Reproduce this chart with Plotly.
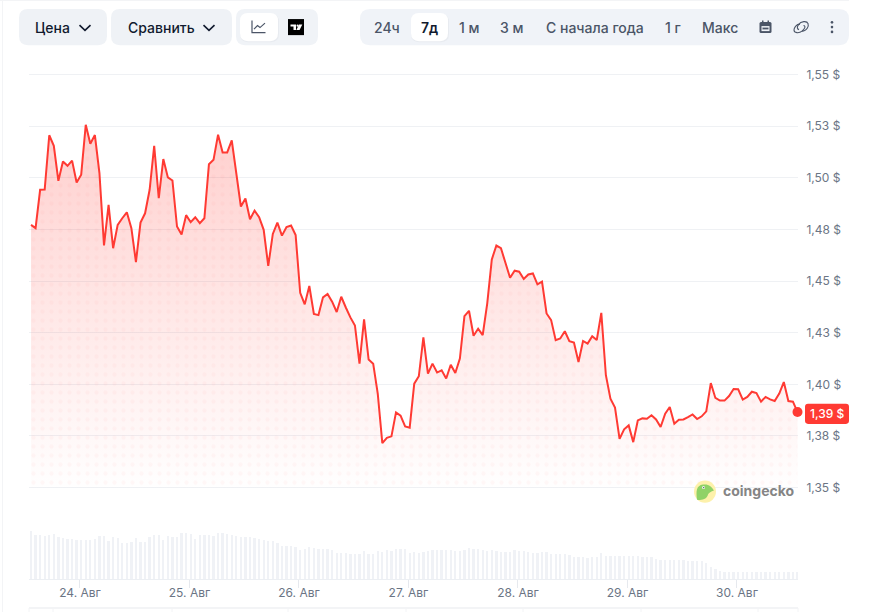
import pandas as pd
import plotly.graph_objects as go

W, H = 882, 612

START = "2025-08-23 13:16"
price = [
 1.4772,1.4756,1.4942,1.4943,1.5206,1.5155,1.4985,1.5079,1.5058,1.5083,1.4977,1.5015,1.5257,1.5165,1.5207,1.5023,
 1.4673,1.4869,1.4659,1.4772,1.4804,1.4833,1.4756,1.4592,1.4783,1.4828,1.4942,1.5155,1.4901,1.5091,1.5002,1.4987,
 1.4764,1.4725,1.4819,1.4785,1.4809,1.4780,1.4804,1.5066,1.5087,1.5209,1.5123,1.5123,1.5181,1.5015,1.4861,1.4900,
 1.4799,1.4841,1.4809,1.4748,1.4573,1.4728,1.4783,
 1.4720,1.4761,1.4769,1.4723,1.4443,1.4387,1.4476,1.4341,1.4335,1.4421,1.4437,1.4400,1.4350,1.4424,1.4372,1.4324,
 1.4285,1.4100,1.4314,1.4120,1.4100,1.3955,1.3715,1.3741,1.3748,1.3864,1.3848,1.3796,1.3790,1.4003,1.4039,1.4227,
 1.4052,1.4100,1.4057,1.4068,1.4028,1.4095,1.4055,1.4125,1.4330,1.4356,1.4235,1.4269,1.4238,1.4392,1.4605,1.4672,
 1.4659,1.4589,1.4516,1.4550,1.4545,
 1.4510,1.4532,1.4537,1.4484,1.4497,1.4343,1.4311,1.4214,1.4222,1.4257,1.4209,1.4202,1.4108,1.4210,1.4197,1.4233,
 1.4214,1.4346,1.4044,1.3930,1.3887,1.3736,1.3782,1.3801,1.3720,1.3825,1.3835,1.3833,1.3850,1.3830,1.3793,1.3858,
 1.3890,1.3809,1.3828,1.3830,1.3841,1.3854,1.3832,1.3845,1.3869,1.4006,1.3934,1.3921,1.3921,1.3943,1.3977,1.3976,
 1.3926,1.3939,1.3964,1.3958,1.3916,1.3939,1.3927,1.3919,1.3955,1.4011,1.3919,1.3916,1.3866,
]
volume = [
 47.3,43.3,43.3,42.3,43.3,43.7,41.3,40.3,39.3,39.3,38.3,38.3,38.3,38.3,39.3,42.3,42.3,37.3,41.3,40.3,
 35.3,35.3,36.3,40.3,36.3,36.3,41.3,43.3,43.3,38.3,42.3,41.3,41.3,44.7,45.3,43.7,39.3,43.3,43.3,43.3,
 42.3,45.3,45.3,44.3,43.3,42.3,41.3,41.3,41.3,40.3,39.3,38.3,37.7,37.7,35.3,32.3,32.3,32.3,31.3,28.3,
 30.0,31.0,30.3,29.3,29.3,30.0,28.3,25.7,25.3,25.3,24.3,24.3,24.3,27.3,24.3,24.3,27.3,26.3,28.3,27.3,29.3,
 29.3,29.3,25.7,27.0,25.7,27.0,27.3,28.3,28.3,28.3,28.3,28.3,27.3,27.3,29.0,30.3,29.7,29.3,28.3,27.3,
 28.3,27.3,27.0,27.0,27.0,28.3,28.0,27.3,27.0,26.0,26.0,26.3,27.0,24.3,24.3,24.3,24.3,23.3,21.7,21.3,
 21.3,20.3,21.3,21.7,25.3,22.3,22.3,22.3,22.3,22.3,22.3,22.3,22.3,21.7,21.3,21.3,20.0,19.0,19.0,19.0,
 19.0,18.3,18.3,17.7,17.7,17.3,17.3,16.0,11.7,10.0,8.3,
 7.3,7.3,7.3,7.3,7.3,7.3,7.3,7.3,7.3,7.3,7.3,7.3,7.3,7.3,7.3,7.3,7.3,
]
y_ticks = [1.35, 1.375, 1.40, 1.425, 1.45, 1.475, 1.50, 1.525, 1.55]
y_labels = ["1,35 $", "1,38 $", "1,40 $", "1,43 $", "1,45 $", "1,48 $", "1,50 $", "1,53 $", "1,55 $"]
x_ticks = ["2025-08-24", "2025-08-25", "2025-08-26", "2025-08-27", "2025-08-28", "2025-08-29", "2025-08-30"]
x_labels = ["24. Авг", "25. Авг", "26. Авг", "27. Авг", "28. Авг", "29. Авг", "30. Авг"]
left_buttons = ["Цена", "Сравнить"]
range_buttons = ["24ч", "7д", "1 м", "3 м", "С начала года", "1 г", "Макс"]
current_label = "1,39 $"

assert len(price) == 169 and len(volume) == 169
times = pd.date_range(START, periods=len(price), freq="h")

FONT = "Inter, sans-serif"
RED = "#ff3a33"
GRID = "#eff1f4"
PANEL = "#eff2f6"
DARK = "#111a2e"
MID = "#4b5567"
AXIS_TXT = "#6b7585"


def X(v):
    return v / W


def Y(v):
    return 1 - v / H


def P(*cmds):
    out = []
    for c in cmds:
        if isinstance(c, str):
            out.append(c)
        else:
            out.append(f"{X(c[0]):.5f},{Y(c[1]):.5f}")
    return " ".join(out)


def rrect(x0, y0, x1, y1, r, fill, line=None, width=0):
    path = P("M", (x0 + r, y0), "L", (x1 - r, y0), "Q", (x1, y0), (x1, y0 + r), "L", (x1, y1 - r), "Q", (x1, y1), (x1 - r, y1),
             "L", (x0 + r, y1), "Q", (x0, y1), (x0, y1 - r), "L", (x0, y0 + r), "Q", (x0, y0), (x0 + r, y0), "Z")
    return dict(type="path", xref="paper", yref="paper", path=path, fillcolor=fill, line=dict(color=line or fill, width=width), layer="above")


def stroke(color, width, *cmds):
    return dict(type="path", xref="paper", yref="paper", path=P(*cmds), line=dict(color=color, width=width), fillcolor="rgba(0,0,0,0)", layer="above")


def filled(color, *cmds):
    return dict(type="path", xref="paper", yref="paper", path=P(*cmds), line=dict(width=0), fillcolor=color, layer="above")


def circle(cx, cy, r, fill):
    return dict(type="circle", xref="paper", yref="paper", x0=X(cx - r), x1=X(cx + r), y0=Y(cy + r), y1=Y(cy - r), fillcolor=fill, line=dict(width=0), layer="above")


def line(x0, y0, x1, y1, color=GRID, width=1):
    return dict(type="line", xref="paper", yref="paper", x0=X(x0), x1=X(x1), y0=Y(y0), y1=Y(y1), line=dict(color=color, width=width), layer="below")


def chevron(cx, cy):
    return stroke(DARK, 1.6, "M", (cx - 5.5, cy - 2.5), "L", (cx, cy + 2.8), "L", (cx + 5.5, cy - 2.5))


def label(text, cx, cy, size=14, color=DARK, weight=500, anchor="center"):
    return dict(text=text, xref="paper", yref="paper", x=X(cx), y=Y(cy), xanchor=anchor, yanchor="middle", showarrow=False,
                font=dict(family=FONT, size=size, color=color, weight=weight), align="center")


fig = go.Figure()
fig.add_trace(go.Scatter(x=times, y=price, mode="none", fill="tozeroy",
                         fillgradient=dict(type="vertical", start=1.35, stop=1.53,
                                           colorscale=[[0, "rgba(255,58,51,0.0)"], [1, "rgba(255,58,51,0.25)"]]),
                         hoverinfo="skip", xaxis="x", yaxis="y"))
fig.add_trace(go.Scatter(x=times, y=price, mode="none", fill="tozeroy", fillcolor="rgba(0,0,0,0)",
                         fillpattern=dict(shape=".", size=9, solidity=0.18, fgcolor="rgba(255,58,51,0.07)", bgcolor="rgba(0,0,0,0)"),
                         hoverinfo="skip", xaxis="x", yaxis="y"))
fig.add_trace(go.Scatter(x=times, y=price, mode="lines", line=dict(color=RED, width=2), xaxis="x", yaxis="y"))
fig.add_trace(go.Scatter(x=times[-1:], y=price[-1:], mode="markers", marker=dict(color=RED, size=10), cliponaxis=False, xaxis="x", yaxis="y"))
fig.add_trace(go.Bar(x=times, y=volume, marker=dict(color="#f0f2f6", line=dict(width=0)), width=1.8e6, xaxis="x", yaxis="y2"))

shapes = [
    line(2.5, 0, 2.5, 612, "#f3f4f6", 1), line(0, 0.5, 849, 0.5, "#f3f4f6", 1),
    line(29, 606, 798, 606, "#f3f4f6", 2),
]
for sx in [29, 53, 172, 288, 406, 523, 641, 758, 798]:
    shapes.append(line(sx, 606, sx, 612, "#f3f4f6", 1))

# toolbar panels
shapes += [
    rrect(19, 9, 107, 45, 9, PANEL), rrect(111, 9, 232, 45, 9, PANEL), rrect(236, 9, 318, 45, 9, "#f0f3f7"),
    rrect(240, 14, 279, 42, 8, "#e8ebf0"), rrect(240, 13, 278, 41, 8, "#ffffff"),
    rrect(360, 9, 849, 45, 10, "#f0f3f8"), rrect(411, 14, 449, 42, 8, "#e8ebf0"), rrect(411, 13, 448, 41, 8, "#ffffff"),
    chevron(85, 27.5), chevron(209, 27.5),
    # chart icon
    stroke(MID, 1.2, "M", (252, 20.5), "L", (252, 32.5), "L", (265.5, 32.5)),
    stroke(MID, 1.2, "M", (254, 29), "L", (257.5, 25.5), "L", (260, 27.5), "L", (265, 23)),
    # tradingview icon
    filled("#000000", "M", (288, 19), "L", (304, 19), "L", (304, 35), "L", (288, 35), "Z"),
    filled("#ffffff", "M", (290.5, 24.5), "L", (296, 24.5), "L", (296, 30), "L", (293.5, 30), "L", (293.5, 26.5), "L", (290.5, 26.5), "Z"),
    circle(297.6, 25.6, 1.1, "#ffffff"),
    filled("#ffffff", "M", (299, 24.5), "L", (302.3, 24.5), "L", (299.6, 30), "L", (296.4, 30), "Z"),
    # calendar icon
    rrect(759.5, 22, 771.5, 33, 1.5, MID),
    filled("#f0f3f8", "M", (761.5, 26), "L", (769.5, 26), "L", (769.5, 31), "L", (761.5, 31), "Z"),
    filled(MID, "M", (762.5, 27.5), "L", (768.5, 27.5), "L", (768.5, 29.3), "L", (762.5, 29.3), "Z"),
    filled(MID, "M", (762, 20.5), "L", (763.5, 20.5), "L", (763.5, 23), "L", (762, 23), "Z"),
    filled(MID, "M", (767.5, 20.5), "L", (769, 20.5), "L", (769, 23), "L", (767.5, 23), "Z"),
    # link icon
    stroke(MID, 1.1, "M", (800, 24), "C", (796, 24), (794, 28), (794, 30), "C", (794, 33), (799, 33.5), (802, 31), "C", (805, 28.5), (806, 26), (803.5, 25.5)),
    stroke(MID, 1.1, "M", (802, 31), "C", (807, 31), (809, 26), (808, 23.5), "C", (807, 20.5), (801, 21), (798.5, 24.5), "C", (796.8, 27), (797, 29), (799, 29.5)),
    # three dots
    circle(832, 22.3, 1.3, MID), circle(832, 27, 1.3, MID), circle(832, 31.8, 1.3, MID),
    # current price tag
    rrect(805, 402.5, 849, 422.5, 3, RED),
    # coingecko logo
    circle(705, 490, 11, "#fdf1ab"),
    filled("#8fd267", "M", (697, 498), "C", (696, 490), (696, 484), (703, 483), "C", (708, 482), (712, 485), (714, 489),
           "C", (711, 490), (709, 491), (708, 493), "C", (707, 497), (703, 499), (697, 498), "Z"),
    circle(703.5, 486, 1.5, "#f2f2f2"), circle(703.7, 486, 0.7, "#555555"),
]

annotations = [
    label(left_buttons[0], 52, 27, 14, DARK, 500),
    label(left_buttons[1], 161, 27, 14, DARK, 500),
    label(range_buttons[0], 387, 27, 14, MID, 500),
    label(range_buttons[1], 429.5, 27, 14, DARK, 600),
    label(range_buttons[2], 469, 27, 14, MID, 500),
    label(range_buttons[3], 512, 27, 14, MID, 500),
    label(range_buttons[4], 594.5, 27, 14, MID, 500),
    label(range_buttons[5], 673, 27, 14, MID, 500),
    label(range_buttons[6], 719.5, 27, 14, MID, 500),
    label(current_label, 827, 412, 12, "#ffffff", 500),
    label("coingecko", 759, 488.5, 14, "#858585", 700),
]

t_step = pd.Timedelta(hours=1)
x_range = [times[0] - 0.44 * t_step, times[-1] + 0.11 * t_step]

fig.update_layout(
    width=W, height=620, margin=dict(l=0, r=0, t=0, b=0), paper_bgcolor="#ffffff", plot_bgcolor="#ffffff",
    showlegend=False, hovermode=False, bargap=0, shapes=shapes, annotations=annotations,
    font=dict(family=FONT, size=12, color=AXIS_TXT),
    xaxis=dict(domain=[X(29), X(798)], range=x_range, anchor="y2", type="date", tickmode="array", tickvals=x_ticks, ticktext=x_labels,
               showgrid=False, zeroline=False, showline=True, linecolor="#eceff3", linewidth=1, ticks="outside", ticklen=8, tickwidth=1,
               tickcolor="#e6e9ee", ticklabelstandoff=-5, tickfont=dict(family=FONT, size=12, color=AXIS_TXT)),
    yaxis=dict(domain=[Y(487), Y(64)], range=[1.3495, 1.555], anchor="x", side="right", tickmode="array", tickvals=y_ticks, ticktext=y_labels,
               showgrid=True, gridcolor=GRID, gridwidth=1, zeroline=False, showline=False, ticks="outside", ticklen=5,
               tickcolor="rgba(0,0,0,0)", tickfont=dict(family=FONT, size=12, color=AXIS_TXT)),
    yaxis2=dict(domain=[Y(577), Y(524)], range=[0, 52], anchor="x", showticklabels=False, showgrid=False, zeroline=False, showline=False, ticks=""),
)

fig.write_html("out.html", config=dict(displayModeBar=False), post_script="document.body.style.margin='0';document.body.style.overflow='hidden';")
